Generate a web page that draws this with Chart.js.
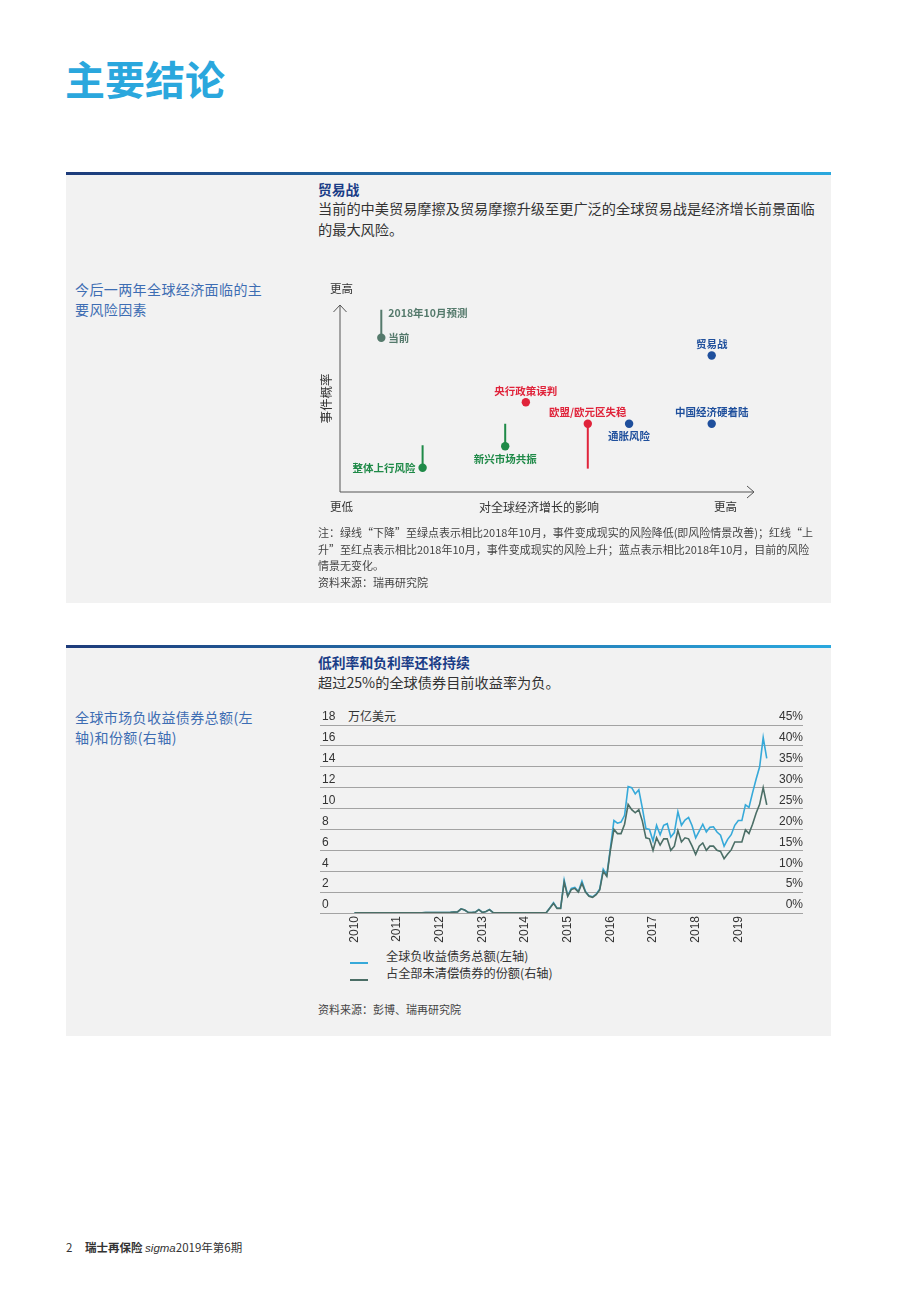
<!DOCTYPE html>
<html lang="zh-CN">
<head>
<meta charset="utf-8">
<title>主要结论</title>
<script src="https://cdn.jsdelivr.net/npm/chart.js@4.4.1/dist/chart.umd.min.js"></script>
<style>
  html, body { margin: 0; padding: 0; background: #fff; }
  body { width: 920px; height: 1302px; position: relative; overflow: hidden;
         font-family: "Noto Sans CJK SC", "Noto Sans", sans-serif; color: #333; }
  .abs { position: absolute; white-space: nowrap; }
  .title { left: 65px; top: 58px; font-size: 40px; line-height: 1; font-weight: 700; color: #2aa7dd; }
  .panel { position: absolute; left: 66px; width: 765px; background: #f2f2f2; }
  .panel .bar { position: absolute; left: 0; top: 0; width: 100%; height: 3px;
                background: linear-gradient(to right, #1d3b7a, #2aa8de); }
  .side { left: 75px; font-size: 14px; line-height: 20px; color: #3d6db3; letter-spacing: 0.4px; }
  .head { left: 318px; font-size: 13.8px; line-height: 18px; font-weight: 700; color: #1a3d87; }
  .sub { left: 318px; font-size: 14.2px; line-height: 21px; color: #333; }
  .note { left: 318px; font-size: 11px; line-height: 16.7px; color: #444; }
  .chartbox { position: absolute; }
  .legend-row { position: absolute; left: 350px; height: 17px; font-size: 12.2px; line-height: 17px; color: #333; white-space: nowrap; }
  .legend-row i { position: absolute; left: 0; top: 14px; width: 18px; height: 2px; }
  .legend-row span { position: absolute; left: 36px; top: 0; }
  .foot { top: 1239px; font-size: 11.5px; line-height: 16px; color: #333; }
</style>
</head>
<body>

<div class="abs title">主要结论</div>

<div class="panel" style="top:172px;height:431px;"><div class="bar"></div></div>
<div class="abs head" style="top:180px;">贸易战</div>
<div class="abs sub" style="top:198px;">当前的中美贸易摩擦及贸易摩擦升级至更广泛的全球贸易战是经济增长前景面临<br>的最大风险。</div>
<div class="abs side" style="top:279px;">今后一两年全球经济面临的主<br>要风险因素</div>
<div class="chartbox" style="left:300px;top:275px;width:500px;height:250px;"><canvas id="riskChart"></canvas></div>
<div class="abs note" style="top:524px;">注：绿线“下降”至绿点表示相比2018年10月，事件变成现实的风险降低(即风险情景改善)；红线“上<br>升”至红点表示相比2018年10月，事件变成现实的风险上升；蓝点表示相比2018年10月，目前的风险<br>情景无变化。<br>资料来源：瑞再研究院</div>

<div class="panel" style="top:645px;height:391px;"><div class="bar"></div></div>
<div class="abs head" style="top:653px;">低利率和负利率还将持续</div>
<div class="abs sub" style="top:672px;">超过25%的全球债券目前收益率为负。</div>
<div class="abs side" style="top:707px;">全球市场负收益债券总额(左<br>轴)和份额(右轴)</div>
<div class="abs" style="left:348px;top:708px;font-size:12px;line-height:16px;color:#333;">万亿美元</div>
<div class="chartbox" style="left:300px;top:690px;width:520px;height:255px;"><canvas id="bondChart"></canvas></div>
<div id="bondLegend"></div>
<div class="abs note" style="top:1001px;">资料来源：彭博、瑞再研究院</div>

<div class="abs foot" style="left:66px;">2</div>
<div class="abs foot" style="left:85px;"><b>瑞士再保险</b> <i style="font-family:'Liberation Sans',sans-serif;">sigma</i>2019年第6期</div>

<script>
// ---- 风险矩阵 (0-10 相对刻度) ----
const riskNames   = ['贸易战', '央行政策误判', '欧盟/欧元区失稳', '通胀风险', '中国经济硬着陆', '新兴市场共振', '整体上行风险'];
const riskImpact  = [9.0, 4.5, 6.0, 7.0, 9.0, 4.0, 2.0];
const riskProbNow = [7.3, 4.8, 3.65, 3.65, 3.65, 2.45, 1.3];
const riskProbOct = [7.3, 4.8, 1.25, 3.65, 3.65, 3.65, 2.5];
const riskTrend   = ['same', 'up', 'up', 'same', 'same', 'down', 'down'];
const riskLabelAt = ['above', 'above', 'above', 'below', 'above', 'below', 'left'];

// key: 2018年10月预测 -> 当前
const keyImpact  = [1.0];
const keyProbNow = [8.25];
const keyProbOct = [9.75];

// ---- 负收益债券, 月度 2010-01 .. 2019-09 ----
const startYear = 2010;
const totalNegDebt = [ // 万亿美元 (左轴)
  0.02, 0.02, 0.02, 0.02, 0.03, 0.03, 0.03, 0.03, 0.02, 0.02, 0.02, 0.02,
  0.02, 0.02, 0.02, 0.02, 0.02, 0.02, 0.03, 0.03, 0.04, 0.04, 0.04, 0.05,
  0.05, 0.05, 0.05, 0.06, 0.08, 0.1, 0.4, 0.28, 0.06, 0.05, 0.08, 0.33,
  0.05, 0.15, 0.33, 0.03, 0.02, 0.02, 0.02, 0.02, 0.02, 0.02, 0.02, 0.02,
  0.02, 0.02, 0.02, 0.02, 0.02, 0.02, 0.05, 0.5, 0.99, 0.45, 0.45, 3.15,
  1.65, 2.35, 2.45, 2.05, 3.05, 2.05, 1.65, 1.55, 1.8, 2.3, 4.2, 3.65,
  6.2, 8.85, 8.6, 8.7, 9.35, 12.1, 12.0, 11.4, 11.8, 10.05, 8.1, 8.0,
  6.9, 8.4, 7.5, 8.4, 8.55, 7.27, 7.7, 9.7, 8.4, 8.9, 9.15, 8.35,
  7.2, 7.85, 8.5, 7.75, 8.2, 8.25, 7.75, 7.45, 6.4, 7.05, 7.5, 8.4,
  8.85, 8.85, 10.35, 10.1, 11.5, 12.8, 14.0, 16.8, 14.8
];
const shareOfDebt = [ // % (右轴)
  0.05, 0.05, 0.05, 0.05, 0.07, 0.07, 0.07, 0.07, 0.05, 0.05, 0.05, 0.05,
  0.05, 0.05, 0.05, 0.05, 0.05, 0.05, 0.07, 0.07, 0.1, 0.1, 0.1, 0.12,
  0.12, 0.12, 0.12, 0.15, 0.2, 0.25, 1.0, 0.7, 0.15, 0.12, 0.2, 0.8,
  0.12, 0.35, 0.8, 0.07, 0.05, 0.05, 0.05, 0.05, 0.05, 0.05, 0.05, 0.05,
  0.05, 0.05, 0.05, 0.05, 0.05, 0.05, 0.1, 1.2, 2.3, 1.1, 1.1, 7.4,
  4.0, 5.6, 5.9, 5.0, 7.1, 5.0, 4.0, 3.75, 4.4, 5.5, 10.0, 8.75,
  15.0, 20.0, 19.0, 19.0, 21.25, 26.0, 24.75, 24.0, 24.75, 22.0, 18.0, 17.75,
  15.0, 18.0, 16.25, 17.75, 17.75, 15.0, 16.0, 19.75, 17.0, 18.0, 17.75, 16.0,
  14.0, 16.0, 16.75, 15.0, 16.0, 16.0, 15.0, 14.75, 13.0, 14.1, 15.1, 17.0,
  17.0, 17.0, 19.9, 19.0, 21.25, 23.9, 26.0, 30.0, 25.9
];
const seriesNames  = ['全球负收益债务总额(左轴)', '占全部未清偿债券的份额(右轴)'];
const seriesColors = ['#36a9d9', '#4b6e66'];

const trendColor = { up: '#e0243b', down: '#1f8a48', same: '#1f4f9c' };
const keyColor = '#557a6c';
const cjk = '"Noto Sans CJK SC", "Noto Sans", sans-serif';
const num = '"Liberation Sans", "Noto Sans CJK SC", sans-serif';

// ---------- chart 1: risk map ----------
const riskDatasets = [];
riskNames.forEach((name, i) => {
  if (riskProbOct[i] !== riskProbNow[i]) {
    riskDatasets.push({
      type: 'line',
      data: [{ x: riskImpact[i], y: riskProbOct[i] }, { x: riskImpact[i], y: riskProbNow[i] }],
      borderColor: trendColor[riskTrend[i]], borderWidth: 2, pointRadius: 0
    });
  }
});
riskDatasets.push({
  type: 'line',
  data: [{ x: keyImpact[0], y: keyProbOct[0] }, { x: keyImpact[0], y: keyProbNow[0] }],
  borderColor: keyColor, borderWidth: 2, pointRadius: 0
});
riskDatasets.push({
  type: 'scatter',
  data: riskNames.map((n, i) => ({ x: riskImpact[i], y: riskProbNow[i] }))
    .concat([{ x: keyImpact[0], y: keyProbNow[0] }]),
  pointRadius: 4.2, pointBorderWidth: 0,
  pointBackgroundColor: riskTrend.map(t => trendColor[t]).concat([keyColor])
});

const riskDecor = {
  id: 'riskDecor',
  afterDatasetsDraw(chart) {
    const { ctx, chartArea: a, scales: { x, y } } = chart;
    ctx.save();
    // axes with arrows
    ctx.strokeStyle = '#555'; ctx.lineWidth = 1;
    ctx.beginPath();
    ctx.moveTo(a.left, a.top); ctx.lineTo(a.left, a.bottom); ctx.lineTo(a.right + 1, a.bottom);
    ctx.moveTo(a.left - 6.5, a.top + 7); ctx.lineTo(a.left, a.top); ctx.lineTo(a.left + 6.5, a.top + 7);
    ctx.moveTo(a.right - 6, a.bottom - 6); ctx.lineTo(a.right + 1, a.bottom); ctx.lineTo(a.right - 6, a.bottom + 6);
    ctx.stroke();

    ctx.fillStyle = '#333';
    ctx.font = '11.5px ' + cjk;
    ctx.textBaseline = 'middle';
    ctx.textAlign = 'left';
    ctx.fillText('更高', a.left - 10, a.top - 16);
    ctx.fillText('更低', a.left - 10, a.bottom + 15);
    ctx.fillText('更高', a.right - 39, a.bottom + 15);
    ctx.textAlign = 'center';
    ctx.font = '12px ' + cjk;
    ctx.fillText('对全球经济增长的影响', a.left + 199, a.bottom + 15);
    ctx.save();
    ctx.translate(a.left - 14, (a.top + a.bottom) / 2);
    ctx.rotate(-Math.PI / 2);
    ctx.font = '12.5px ' + cjk;
    ctx.fillText('事件概率', 0, 0);
    ctx.restore();

    // point labels
    ctx.font = 'bold 10.5px ' + cjk;
    riskNames.forEach((name, i) => {
      const px = x.getPixelForValue(riskImpact[i]);
      const py = y.getPixelForValue(riskProbNow[i]);
      ctx.fillStyle = trendColor[riskTrend[i]];
      const pos = riskLabelAt[i];
      if (pos === 'above') { ctx.textAlign = 'center'; ctx.fillText(name, px, py - 11.5); }
      else if (pos === 'below') { ctx.textAlign = 'center'; ctx.fillText(name, px, py + 12.5); }
      else if (pos === 'left') { ctx.textAlign = 'right'; ctx.fillText(name, px - 7, py + 0.5); }
      else { ctx.textAlign = 'left'; ctx.fillText(name, px + 7, py); }
    });
    const kx = x.getPixelForValue(keyImpact[0]);
    ctx.fillStyle = keyColor;
    ctx.textAlign = 'left';
    ctx.fillText('当前', kx + 7, y.getPixelForValue(keyProbNow[0]) + 0.5);
    ctx.fillText('2018年10月预测', kx + 7, y.getPixelForValue(keyProbOct[0]) + 3.5);
    ctx.restore();
  }
};

new Chart(document.getElementById('riskChart'), {
  type: 'scatter',
  data: { datasets: riskDatasets },
  options: {
    responsive: true, maintainAspectRatio: false, animation: false,
    layout: { padding: { left: 40, right: 47, top: 30, bottom: 33 } },
    scales: {
      x: { display: false, min: 0, max: 10 },
      y: { display: false, min: 0, max: 10 }
    },
    plugins: { legend: { display: false }, tooltip: { enabled: false } }
  },
  plugins: [riskDecor]
});

// ---------- chart 2: negative-yield debt ----------
new Chart(document.getElementById('bondChart'), {
  type: 'line',
  data: {
    datasets: [
      {
        label: seriesNames[1], yAxisID: 'y1', order: 0,
        data: shareOfDebt.map((v, i) => ({ x: i, y: v })),
        borderColor: seriesColors[1], borderWidth: 1.6, pointRadius: 0, tension: 0
      },
      {
        label: seriesNames[0], yAxisID: 'y', order: 1,
        data: totalNegDebt.map((v, i) => ({ x: i, y: v })),
        borderColor: seriesColors[0], borderWidth: 1.6, pointRadius: 0, tension: 0
      }
    ]
  },
  options: {
    responsive: true, maintainAspectRatio: false, animation: false,
    layout: { padding: { left: 16, right: 17, top: 35, bottom: 0 } },
    scales: {
      x: {
        type: 'linear', min: -9.7, max: 126.2,
        grid: { display: false, drawTicks: false }, border: { display: false },
        afterBuildTicks: s => { s.ticks = s.ticks.filter(t => t.value >= 0 && t.value <= 108 && t.value % 12 === 0); },
        afterFit: s => { s.height = 32; },
        ticks: {
          stepSize: 12, includeBounds: false, autoSkip: false,
          minRotation: 90, maxRotation: 90, padding: 3,
          color: '#333', font: { size: 12, family: num },
          callback: v => String(startYear + v / 12)
        }
      },
      y: {
        position: 'left', min: 0, max: 18,
        grid: { color: '#a3a3a3', lineWidth: 1, drawTicks: false }, border: { display: false },
        ticks: { stepSize: 2, mirror: true, padding: 2, labelOffset: -8, color: '#333', font: { size: 12, family: num } }
      },
      y1: {
        position: 'right', min: 0, max: 45,
        grid: { display: false, drawTicks: false }, border: { display: false },
        ticks: { stepSize: 5, mirror: true, padding: 0, labelOffset: -8, color: '#333', font: { size: 12, family: num },
                 callback: v => v + '%' }
      }
    },
    plugins: { legend: { display: false }, tooltip: { enabled: false } }
  }
});

// legend
const legendEl = document.getElementById('bondLegend');
seriesNames.forEach((name, i) => {
  const row = document.createElement('div');
  row.className = 'legend-row';
  row.style.top = (948 + i * 17) + 'px';
  row.innerHTML = `<i style="background:${seriesColors[i]}"></i><span>${name}</span>`;
  legendEl.appendChild(row);
});
</script>
</body>
</html>
